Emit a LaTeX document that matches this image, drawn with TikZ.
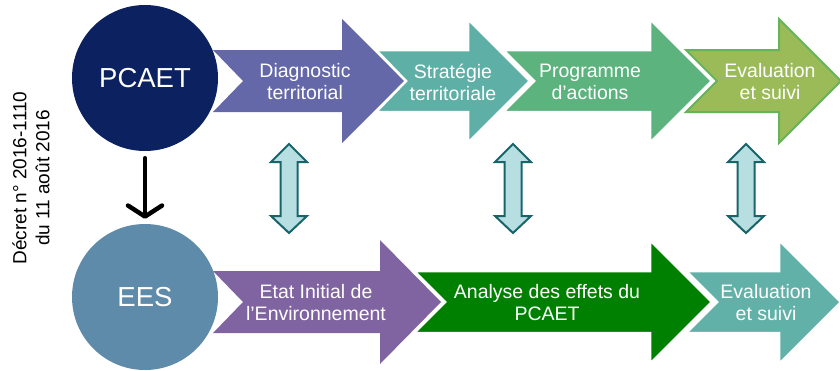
\documentclass[tikz,border=0pt]{standalone}
\usepackage{fontspec}
\setmainfont{Liberation Sans}
\usetikzlibrary{arrows.meta}
\definecolor{navy}{RGB}{12,33,96}
\definecolor{eescol}{RGB}{95,139,170}
\definecolor{diagcol}{RGB}{100,104,168}
\definecolor{stratcol}{RGB}{94,175,166}
\definecolor{progcol}{RGB}{93,179,126}
\definecolor{evalfill}{RGB}{155,187,89}
\definecolor{evalline}{RGB}{102,180,90}
\definecolor{etatcol}{RGB}{128,100,162}
\definecolor{analcol}{RGB}{0,128,0}
\definecolor{evalbcol}{RGB}{98,177,168}
\definecolor{dblfill}{RGB}{183,222,225}
\definecolor{dblline}{RGB}{23,101,107}
% #1 style, #2 centre y, #3 body left, #4 notch, #5 head start, #6 tip
\newcommand\chevarrow[6]{\path[#1] (#3,#2-31) -- (#5,#2-31) -- (#5,#2-62) -- (#6,#2) -- (#5,#2+62) -- (#5,#2+31) -- (#3,#2+31) -- (#4,#2) -- cycle;}
\newcommand\dblarr[1]{\path[dblstyle] (#1,144) -- (#1+18,162) -- (#1+8.5,162) -- (#1+8.5,216) -- (#1+18,216) -- (#1,233) -- (#1-18,216) -- (#1-8.5,216) -- (#1-8.5,162) -- (#1-18,162) -- cycle;}
\tikzset{
  dblstyle/.style={fill=dblfill, draw=dblline, line width=2pt, line join=miter},
  sep/.style={draw=white, line width=2.5pt, line join=miter},
  arrtext/.style={text=white, align=center, font=\fontsize{19.5}{22}\selectfont, inner sep=0pt},
  disc/.style={circle, minimum size=146pt, inner sep=0pt, text=white, font=\fontsize{27.5}{30}\selectfont},
}
\begin{document}
\begin{tikzpicture}[x=1pt,y=-1pt]
\useasboundingbox (0,0) rectangle (840,370);
% top row
\chevarrow{fill=diagcol}{81}{213}{243}{342}{404}
\chevarrow{fill=stratcol, sep}{81}{376}{406}{468}{530}
\chevarrow{fill=progcol, sep}{81}{503}{534}{650}{712}
\chevarrow{draw=white, line width=5.5pt}{81}{686}{717}{779}{841}
\chevarrow{fill=evalfill, draw=evalline, line width=2pt}{81}{686}{717}{779}{841}
% bottom row
\chevarrow{fill=etatcol}{302}{213}{243}{380}{441}
\chevarrow{fill=analcol, sep}{302}{414}{445}{650}{712}
\chevarrow{fill=evalbcol, sep}{302}{686}{717}{779}{841}
% circles
\node[disc, fill=navy] (pcaet) at (145,78) {PCAET};
\node[disc, fill=eescol] (ees) at (145,297) {EES};
\draw[line width=4.5pt, line cap=round, shorten <=7pt, shorten >=5pt,
  -{Straight Barb[length=11pt, width=34pt, round]}] (pcaet) -- (ees);
% texts
\node[arrtext] (t1) at (305,82) {Diagnostic\\territorial};
\node[arrtext] (t2) at (453,82) {Stratégie\\territoriale};
\node[arrtext] (t3) at (590,82) {Programme\\d’actions};
\node[arrtext] (t4) at (770,82) {Evaluation\\et suivi};
\node[arrtext] (b1) at (316,303) {Etat Initial de\\l’Environnement};
\node[arrtext] (b2) at (547,303) {Analyse des effets du\\PCAET};
\node[arrtext] (b3) at (766,303) {Evaluation\\et suivi};
% double arrows
\dblarr{289}
\dblarr{513}
\dblarr{746}
% decree
\node[rotate=90, align=center, font=\fontsize{19}{23}\selectfont, inner sep=0pt] (decret) at (31,178) {Décret n° 2016-1110\\du 11 août 2016};
\end{tikzpicture}
\end{document}
